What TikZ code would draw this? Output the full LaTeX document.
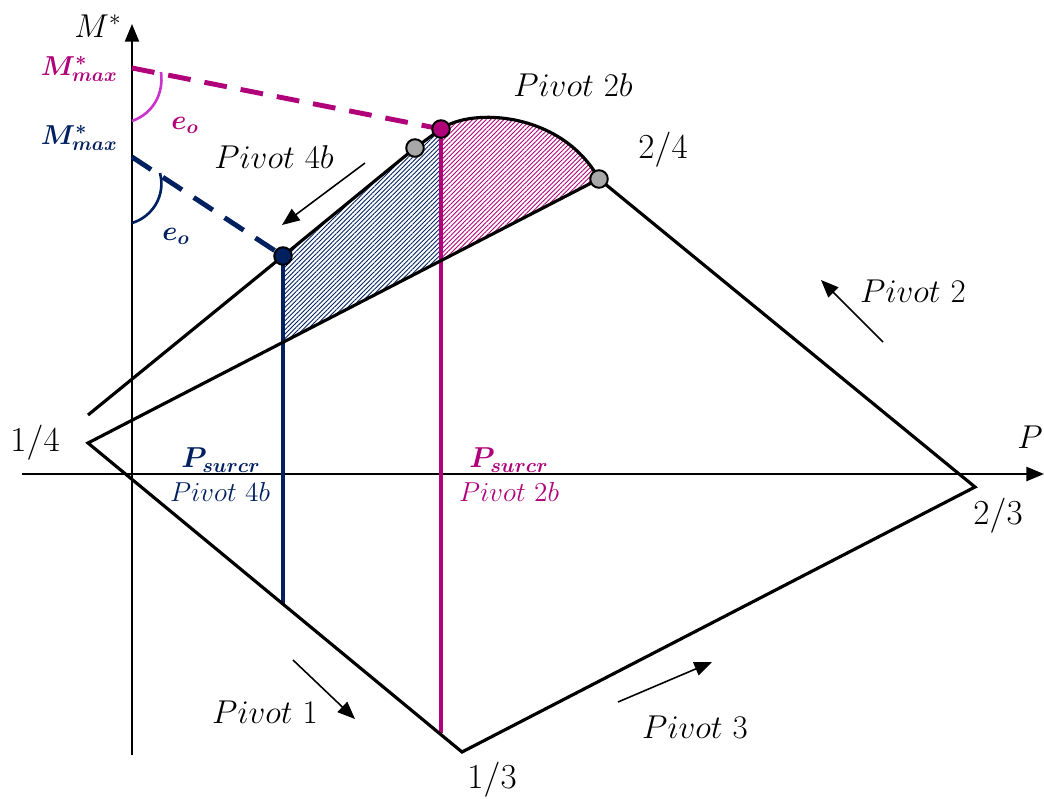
\RequirePackage{fix-cm}
\documentclass[tikz,border=0pt]{standalone}
\usepackage{bm}
\usetikzlibrary{patterns.meta,arrows.meta}
\definecolor{mag}{RGB}{176,0,122}
\definecolor{navy}{RGB}{0,32,96}
\definecolor{arcmag}{RGB}{204,51,204}
\definecolor{ptgrey}{RGB}{168,168,168}
\tikzset{
  lbl/.style={font=\fontsize{18.8}{23}\selectfont, inner sep=0pt},
  nlbl/.style={font=\fontsize{20}{24}\selectfont, inner sep=0pt},
  slbl/.style={font=\fontsize{15.6}{19}\selectfont, inner sep=0pt},
  blbl/.style={font=\fontsize{16.4}{20}\selectfont, inner sep=0pt},
  mlbl/.style={font=\fontsize{15.6}{19}\selectfont, inner sep=0pt},
  axis/.style={line width=1.1pt, -{Triangle[length=10pt,width=8pt]}},
  outline/.style={line width=1.8pt},
  pt/.style={circle, draw=black, line width=1.1pt, minimum size=10pt, inner sep=0pt},
  small/.style={line width=0.9pt, -{Triangle[length=10pt,width=8pt]}},
  dashline/.style={line width=2.8pt, dash pattern=on 13pt off 8pt},
  hatch/.style={pattern={Lines[angle=45,distance=1.8pt,line width=0.5pt]}},
}
\begin{document}
\begin{tikzpicture}[x=0.02cm, y=-0.02cm]
\useasboundingbox (0,0) rectangle (1044,798);
% coordinates
\coordinate (U0) at (88,415);
\coordinate (P4b) at (283,256);
\coordinate (G1) at (415,148);
\coordinate (M2b) at (441,129);
\coordinate (G2) at (599,179);
\coordinate (P23) at (975,487);
\coordinate (P13) at (462,752);
\coordinate (P14) at (88,443);
\coordinate (B4low) at (283,342);
\coordinate (M2low) at (441,261);
\coordinate (B4bot) at (283,605);
\coordinate (M2bot) at (441,733);
\coordinate (Mmag) at (132,68);
\coordinate (Mnav) at (132,157);
\coordinate (Ybot) at (132,755);
\coordinate (Ytop) at (132,24);
\coordinate (Xl) at (22,474);
\coordinate (Xr) at (1044,474);
% hatched regions
\fill[hatch, pattern color=navy]
  (P4b) -- (G1) -- (M2b) -- (M2low) -- (B4low) -- cycle;
\fill[hatch, pattern color=mag]
  (M2b) .. controls (472,107) and (562,112) .. (G2) -- (M2low) -- cycle;
% axes
\draw[axis] (Ybot) -- (Ytop);
\draw[axis] (Xl) -- (Xr);
% vertical coloured lines
\draw[navy, line width=2.6pt] (P4b) -- (B4bot);
\draw[mag, line width=2.6pt] (M2b) -- (M2bot);
% outline
\draw[outline] (U0) -- (P4b) -- (G1) -- (M2b)
  .. controls (472,107) and (562,112) .. (G2)
  -- (P23) -- (P13) -- (P14) -- (G2);
% dashed lines
\draw[dashline, mag] (Mmag) -- (M2b);
\draw[dashline, navy] (Mnav) -- (P4b);
% angle arcs
\draw[arcmag, line width=1.5pt] (161,72) .. controls (164,95) and (152,114) .. (132,121);
\draw[navy, line width=1.5pt] (160,173) .. controls (166,196) and (152,217) .. (132,223);
% points
\node[pt, fill=navy] (n4b) at (P4b) {};
\node[pt, fill=ptgrey] (g1) at (G1) {};
\node[pt, fill=mag] (m2b) at (M2b) {};
\node[pt, fill=ptgrey] (g2) at (G2) {};
% arrows
\coordinate (a4s) at (365,163); \coordinate (a4e) at (282,225);
\draw[small] (a4s) -- (a4e);
\coordinate (a2s) at (883,342); \coordinate (a2e) at (821,280);
\draw[small] (a2s) -- (a2e);
\coordinate (a1s) at (293,660); \coordinate (a1e) at (355,719);
\draw[small] (a1s) -- (a1e);
\coordinate (a3s) at (618,702); \coordinate (a3e) at (712,662);
\draw[small] (a3s) -- (a3e);
% labels
\node[lbl] (tM) at (98,26) {$M^*$};
\node[mlbl, anchor=east, text=mag] (tMmag) at (118,69) {$\bm{M^{*}_{max}}$};
\node[mlbl, anchor=east, text=navy] (tMnav) at (118,138) {$\bm{M^{*}_{max}}$};
\node[mlbl, text=mag] (teo1) at (185,125) {$\bm{e_o}$};
\node[mlbl, text=navy] (teo2) at (176,236) {$\bm{e_o}$};
\node[lbl] (tP4b) at (274,157) {$Pivot\ 4b$};
\node[lbl] (tP2b) at (573,85) {$Pivot\ 2b$};
\node[nlbl] (t24) at (663,150) {$2/4$};
\node[lbl] (tP2) at (913,291) {$Pivot\ 2$};
\node[blbl, text=navy] (tPs1) at (221,460) {$\bm{P_{surcr}}$};
\node[slbl, text=navy] (tPs1b) at (220,492) {$Pivot\ 4b$};
\node[blbl, text=mag] (tPs2) at (509,460) {$\bm{P_{surcr}}$};
\node[slbl, text=mag] (tPs2b) at (509,492) {$Pivot\ 2b$};
\node[lbl] (tP1) at (265,712) {$Pivot\ 1$};
\node[lbl] (tP3) at (695,727) {$Pivot\ 3$};
\node[nlbl] (t13) at (492,780) {$1/3$};
\node[nlbl] (t23) at (998,516) {$2/3$};
\node[nlbl] (t14) at (35,443) {$1/4$};
\node[lbl, anchor=east] (tPax) at (1043,437) {$P$};
\end{tikzpicture}
\end{document}
